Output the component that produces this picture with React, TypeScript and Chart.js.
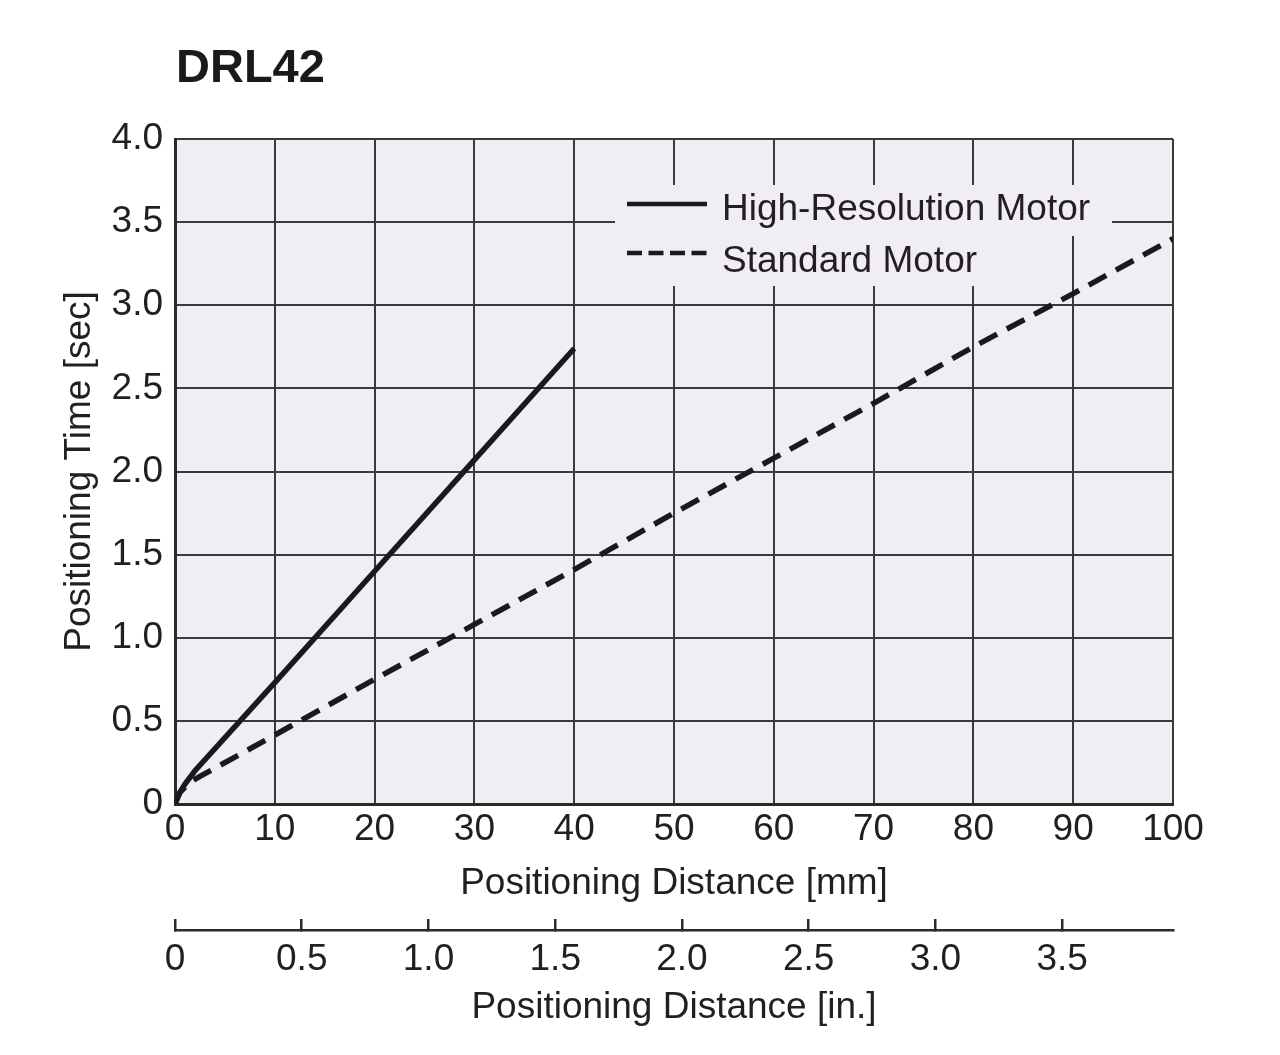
import React, { useEffect, useRef } from 'react';
import { Chart, registerables } from 'chart.js';

Chart.register(...registerables);

const chartTitle = 'DRL42';
const seriesNames = ['High-Resolution Motor', 'Standard Motor'];
const hiResX = [0, 0.3, 1, 2, 10, 20, 30, 40];
const hiResY = [0, 0.05, 0.12, 0.2, 0.73, 1.4, 2.07, 2.74];
const stdX = [0, 0.5, 1.5, 2.5, 10, 20, 30, 40, 50, 60, 70, 80, 90, 100];
const stdY = [0, 0.07, 0.13, 0.166, 0.415, 0.75, 1.08, 1.41, 1.75, 2.08, 2.41, 2.75, 3.07, 3.4];
const xTitle = 'Positioning Distance [mm]';
const x2Title = 'Positioning Distance [in.]';
const yTitle = 'Positioning Time [sec]';
const mmMax = 100;
const inchPerMm = 1 / 25.4;
const timeMax = 4;

const FONT = "'Liberation Sans', Arial, sans-serif";
const TEXT = '#231f20';
const BG = '#f1edf5';
const GRID = '#3a3a3a';

const fmtHalf = (v: number) => (v === 0 ? '0' : Number(v).toFixed(1));

const decorPlugin = {
  id: 'decor',
  beforeDraw(chart: any) {
    const { ctx, chartArea } = chart;
    ctx.save();
    ctx.fillStyle = BG;
    ctx.fillRect(chartArea.left, chartArea.top, chartArea.right - chartArea.left, chartArea.bottom - chartArea.top);
    ctx.restore();
  },
  afterDraw(chart: any) {
    const { ctx } = chart;
    ctx.save();
    ctx.fillStyle = '#1a1a1a';
    ctx.font = `bold 47px ${FONT}`;
    ctx.textBaseline = 'alphabetic';
    ctx.textAlign = 'left';
    ctx.fillText(chartTitle, 176, 82);
    ctx.fillStyle = BG;
    ctx.fillRect(615, 185, 497, 51);
    ctx.fillRect(615, 236, 370, 50);
    const ds = chart.data.datasets;
    ctx.strokeStyle = '#1a1a1a';
    ctx.lineWidth = 4.5;
    ctx.setLineDash([]);
    ctx.beginPath();
    ctx.moveTo(627, 204);
    ctx.lineTo(707, 204);
    ctx.stroke();
    ctx.setLineDash([15, 6.5]);
    ctx.beginPath();
    ctx.moveTo(627, 253);
    ctx.lineTo(707, 253);
    ctx.stroke();
    ctx.setLineDash([]);
    ctx.fillStyle = TEXT;
    ctx.font = `37px ${FONT}`;
    ctx.fillText(ds[0].label, 722, 220);
    ctx.fillText(ds[1].label, 722, 272);
    ctx.restore();
  },
};

export default function App() {
  const ref = useRef<HTMLCanvasElement | null>(null);
  useEffect(() => {
    if (!ref.current) return;
    const tickFont = { family: FONT, size: 37 };
    const chart = new Chart(ref.current, {
      type: 'line',
      data: {
        datasets: [
          {
            label: seriesNames[0],
            data: hiResX.map((x, i) => ({ x, y: hiResY[i] })),
            borderColor: '#1a1a1a',
            borderWidth: 5.5,
            pointRadius: 0,
            tension: 0,
            fill: false,
          },
          {
            label: seriesNames[1],
            data: stdX.map((x, i) => ({ x, y: stdY[i] })),
            borderColor: '#1a1a1a',
            borderWidth: 5.5,
            borderDash: [20, 11],
            pointRadius: 0,
            tension: 0,
            fill: false,
          },
        ],
      },
      options: {
        animation: false,
        responsive: false,
        devicePixelRatio: 1,
        layout: { padding: { top: 139, right: 107, left: 0, bottom: 0 } },
        plugins: { legend: { display: false }, tooltip: { enabled: false }, title: { display: false } },
        scales: {
          x: {
            type: 'linear',
            position: 'bottom',
            min: 0,
            max: mmMax,
            afterFit: (s: any) => { s.height = 126; },
            grid: { color: GRID, lineWidth: 2, drawTicks: false },
            border: { display: true, color: '#2a2a2a', width: 3 },
            ticks: { stepSize: 10, color: TEXT, font: tickFont, padding: 4, maxRotation: 0 },
            title: { display: true, text: xTitle, color: TEXT, font: { family: FONT, size: 37 }, padding: { top: 0, bottom: 24 } },
          },
          x2: {
            type: 'linear',
            position: 'bottom',
            min: 0,
            max: mmMax * inchPerMm,
            afterFit: (s: any) => { s.height = 125; },
            grid: { drawOnChartArea: false, color: '#2a2a2a', lineWidth: 2.5, tickLength: -11 },
            border: { display: true, color: '#2a2a2a', width: 2.5 },
            ticks: { stepSize: 0.5, includeBounds: false, color: TEXT, font: tickFont, padding: 19, maxRotation: 0, callback: (v: any) => fmtHalf(v) },
            title: { display: true, text: x2Title, color: TEXT, font: { family: FONT, size: 37 }, padding: { top: 0, bottom: 25 } },
          },
          y: {
            type: 'linear',
            min: 0,
            max: timeMax,
            afterFit: (s: any) => { s.width = 175; },
            grid: { color: GRID, lineWidth: 2, drawTicks: false },
            border: { display: true, color: '#2a2a2a', width: 3 },
            ticks: { stepSize: 0.5, color: TEXT, font: tickFont, padding: 12, callback: (v: any) => fmtHalf(v) },
            title: { display: true, text: yTitle, color: TEXT, font: { family: FONT, size: 37 }, padding: { top: 58, bottom: 0 } },
          },
        },
      },
      plugins: [decorPlugin],
    } as any);
    return () => chart.destroy();
  }, []);
  return (
    <div style={{ position: 'fixed', left: 0, top: 0, width: 1280, height: 1055, background: '#fff' }}>
      <canvas ref={ref} width={1280} height={1055} style={{ display: 'block', width: 1280, height: 1055 }} />
    </div>
  );
}
